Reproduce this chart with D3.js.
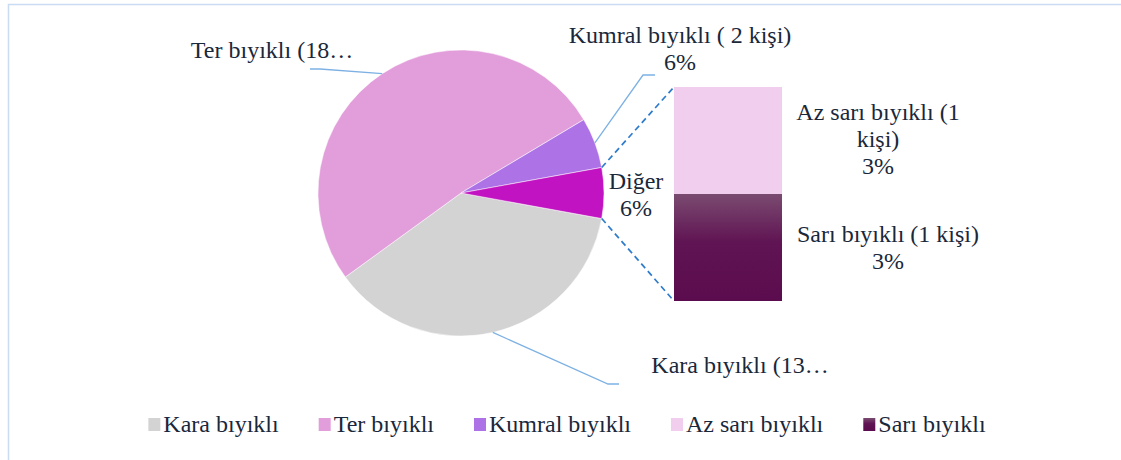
<!DOCTYPE html>
<html>
<head>
<meta charset="utf-8">
<script src="https://cdn.jsdelivr.net/npm/d3@7"></script>
<style>
  body { margin: 0; background: #fff; }
  svg text { font-family: "Liberation Serif", "Times New Roman", serif; fill: #1a283b; }
</style>
</head>
<body>
<svg id="chart" width="1121" height="460"></svg>
<script>
// veriler
const categories = ['Kara bıyıklı', 'Ter bıyıklı', 'Kumral bıyıklı', 'Az sarı bıyıklı', 'Sarı bıyıklı'];
const values = [13, 18, 2, 1, 1];
const colors = ['#d3d3d3', '#e29edb', '#ad73e6', '#f1cdee', 'url(#sariGrad)'];
const secondCount = 2; // son iki dilim ikinci grafikte
const otherName = 'Diğer';
const pieLabels = [
  ['Kara bıyıklı (13…'],
  ['Ter bıyıklı (18…'],
  ['Kumral bıyıklı ( 2 kişi)', '6%'],
];
const barLabels = [
  ['Az sarı bıyıklı (1', 'kişi)', '3%'],
  ['Sarı bıyıklı (1 kişi)', '3%'],
];
const otherLabel = [otherName, '6%'];

const fontSize = 24;
const svg = d3.select('#chart');
const defs = svg.append('defs');
const grad = defs.append('linearGradient').attr('id', 'sariGrad')
  .attr('x1', 0).attr('y1', 0).attr('x2', 0).attr('y2', 1);
grad.append('stop').attr('offset', '0%').attr('stop-color', '#7a4b70');
grad.append('stop').attr('offset', '45%').attr('stop-color', '#601453');
grad.append('stop').attr('offset', '100%').attr('stop-color', '#5b0c4e');

// çerçeve
svg.append('rect')
  .attr('x', 8.5).attr('y', 4.5).attr('width', 1300).attr('height', 700)
  .attr('fill', 'none').attr('stroke', '#c9dcf2').attr('stroke-width', 1.5);

// ana pasta
const cx = 461, cy = 193, r = 143;
const mainVals = values.slice(0, values.length - secondCount);
const otherSum = d3.sum(values.slice(values.length - secondCount));
const pieData = mainVals.map((v, i) => ({ name: categories[i], value: v, color: colors[i] }))
  .concat([{ name: otherName, value: otherSum, color: '#c113c1' }]);

const total = d3.sum(values);
const half = (otherSum / total) * Math.PI; // Diğer dilimi sağda ortalansın
const start = Math.PI / 2 + half;
const pie = d3.pie().sort(null).value(d => d.value)
  .startAngle(start).endAngle(start + 2 * Math.PI);
const arcs = pie(pieData);
const arc = d3.arc().innerRadius(0).outerRadius(r);

const g = svg.append('g').attr('transform', `translate(${cx},${cy})`);
g.selectAll('path').data(arcs).join('path')
  .attr('d', arc)
  .attr('fill', d => d.data.color)
  .attr('stroke', '#fff').attr('stroke-width', 0.5);

function edgePoint(a, rad) {
  return [cx + Math.sin(a) * rad, cy - Math.cos(a) * rad];
}

// etiket çizgileri
const leaderEnds = [
  [[608, 384], [619, 384]],
  [[320, 69], [310, 69]],
  [[643, 75], [655, 75]],
];
const line = d3.line();
leaderEnds.forEach((pts, i) => {
  const a = arcs[i];
  const p0 = edgePoint((a.startAngle + a.endAngle) / 2, r);
  svg.append('path')
    .attr('d', line([p0].concat(pts)))
    .attr('fill', 'none').attr('stroke', '#7eb1e3').attr('stroke-width', 1.3);
});

// pasta etiketleri
const labelPos = [
  { x: 740, y: 373 },
  { x: 272, y: 58 },
  { x: 680, y: 43 },
];
const lineH = 27;
function multiLabel(lines, x, y) {
  const t = svg.append('text').attr('x', x).attr('y', y)
    .attr('text-anchor', 'middle').attr('font-size', fontSize);
  lines.forEach((s, k) => {
    t.append('tspan').attr('x', x).attr('y', y + k * lineH).text(s);
  });
}
pieLabels.forEach((lines, i) => multiLabel(lines, labelPos[i].x, labelPos[i].y));
multiLabel(otherLabel, 636, 189);

// ikinci grafik (sütun)
const bx = 674, bw = 108;
const yScale = d3.scaleLinear().domain([0, otherSum]).range([87, 301]);
const secondVals = values.slice(values.length - secondCount);
const stack = [];
let acc = 0;
secondVals.forEach((v, i) => {
  stack.push({ y0: acc, y1: acc + v, color: colors[values.length - secondCount + i] });
  acc += v;
});
svg.selectAll('rect.seg').data(stack).join('rect').attr('class', 'seg')
  .attr('x', bx).attr('width', bw)
  .attr('y', d => yScale(d.y0))
  .attr('height', d => yScale(d.y1) - yScale(d.y0))
  .attr('fill', d => d.color);

// kesikli bağlantı çizgileri
const oa = arcs[arcs.length - 1];
const pTop = edgePoint(oa.startAngle, r);
const pBot = edgePoint(oa.endAngle, r);
[[pTop, [bx, yScale(0)]], [pBot, [bx, yScale(otherSum)]]].forEach(seg => {
  svg.append('path').attr('d', line(seg))
    .attr('fill', 'none').attr('stroke', '#2f7bcc')
    .attr('stroke-width', 1.7).attr('stroke-dasharray', '6,4');
});

const barLabelPos = [{ x: 878, y: 120 }, { x: 888, y: 242 }];
barLabels.forEach((lines, i) => multiLabel(lines, barLabelPos[i].x, barLabelPos[i].y));

// gösterge
const legend = svg.append('g');
const gap = 40;
let lx = 0;
categories.forEach((c, i) => {
  const item = legend.append('g').attr('transform', `translate(${lx},0)`);
  item.append('rect').attr('x', 0).attr('y', -14).attr('width', 12).attr('height', 13)
    .attr('fill', colors[i]);
  const t = item.append('text').attr('x', 15).attr('y', 0).attr('font-size', fontSize).text(c);
  lx += 15 + t.node().getComputedTextLength() + gap;
});
const legendW = lx - gap;
legend.attr('transform', `translate(${567 - legendW / 2},432)`);
</script>
</body>
</html>
